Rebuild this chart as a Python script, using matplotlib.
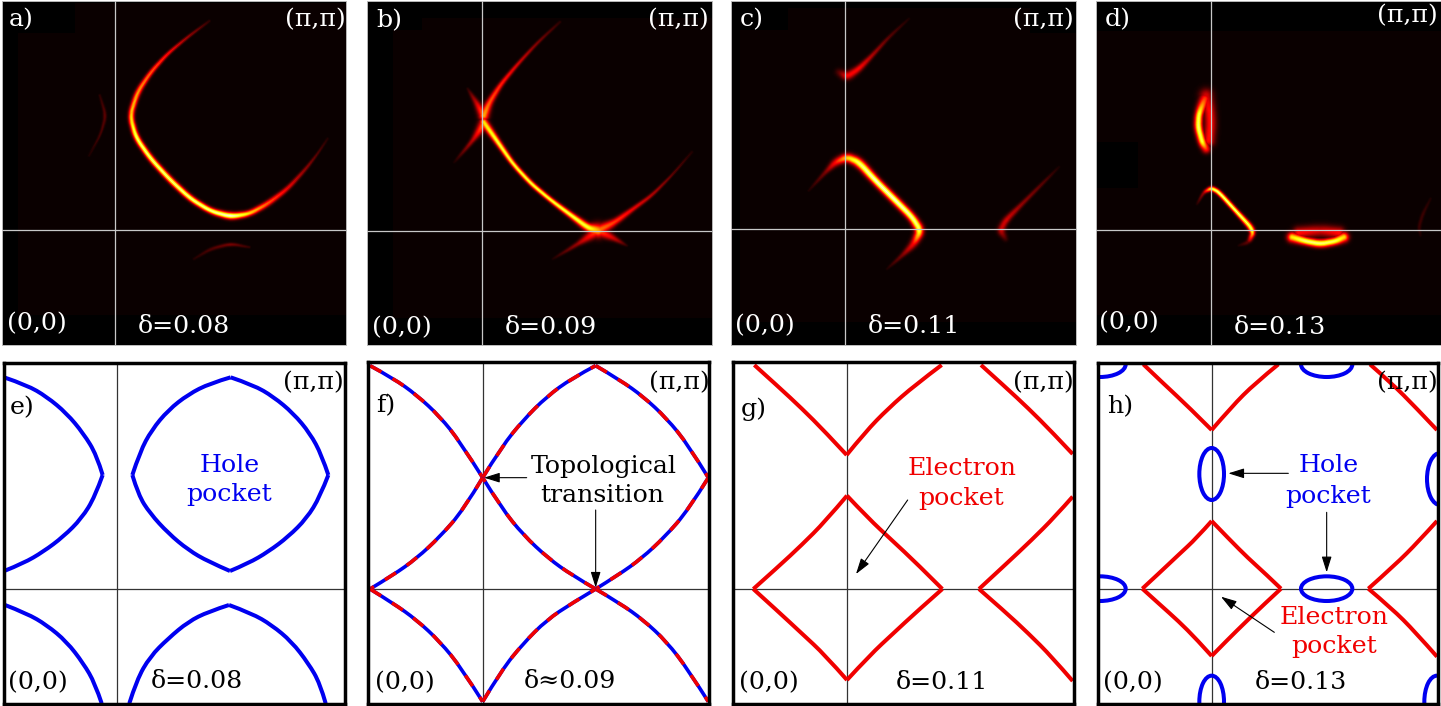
import numpy as np
from matplotlib import pyplot as plt
from matplotlib.patches import Ellipse, PathPatch, Rectangle
from matplotlib.path import Path

W, H = 1441, 706
FONT = 'DejaVu Serif'
FS = 18.2
BLUE = '#0000f0'
RED = '#f00000'

# top row, spectral weight traces
a_main = [(625, 62, .06, 3), (560, 110, .22, 3.5), (500, 160, .38, 4), (450, 215, .5, 5), (410, 275, .6, 6),
          (388, 345, .68, 6), (405, 410, .85, 6), (450, 475, .88, 6), (510, 540, .88, 6), (570, 595, .88, 6),
          (630, 632, .88, 6), (690, 648, .95, 7), (745, 640, .7, 6), (800, 610, .5, 6), (860, 565, .34, 5),
          (915, 505, .2, 4), (950, 460, .11, 3), (980, 415, .04, 3)]
a_left = [(297, 285, .05, 3), (315, 345, .12, 4), (300, 400, .09, 3), (265, 465, .03, 3)]
a_low = [(580, 775, .04, 3), (630, 745, .1, 4), (690, 730, .16, 4), (745, 740, .06, 3)]

b_up = [(595, 65, .06, 3), (530, 125, .18, 3.5), (470, 190, .32, 4), (420, 250, .42, 5), (385, 305, .5, 7),
        (368, 345, .62, 10)]
b_low = [(368, 365, .72, 8), (410, 425, .82, 6), (455, 490, .82, 5), (510, 550, .82, 5), (570, 600, .82, 5),
         (630, 645, .82, 6), (680, 682, .8, 8), (710, 690, .62, 14)]
b_right = [(710, 690, .55, 12), (760, 665, .45, 7), (815, 625, .34, 5), (870, 585, .26, 4), (930, 525, .14, 3),
           (990, 455, .04, 3)]
b_arm1 = [(320, 265, .05, 3), (345, 305, .28, 6), (368, 345, .55, 10)]
b_arm2 = [(368, 370, .55, 10), (335, 420, .26, 5), (280, 485, .03, 3)]
b_arm3 = [(710, 690, .5, 12), (650, 730, .22, 5), (575, 775, .03, 3)]
b_arm4 = [(710, 690, .5, 12), (760, 715, .28, 6), (795, 735, .05, 3)]

c_up = [(340, 215, .1, 8), (365, 228, .36, 9), (400, 205, .36, 7), (440, 165, .24, 5), (490, 110, .12, 4),
        (550, 55, .03, 3)]
c_main = [(250, 570, .03, 3), (300, 515, .16, 5), (330, 485, .38, 8), (365, 470, .68, 9), (400, 485, .85, 9),
          (450, 540, .95, 8), (510, 600, .95, 8), (560, 650, .9, 8), (585, 690, .82, 9), (565, 730, .36, 8),
          (530, 765, .16, 5), (485, 805, .03, 3)]
c_right = [(1000, 500, .03, 3), (950, 550, .12, 4), (890, 610, .2, 5), (840, 660, .3, 7), (825, 690, .28, 8),
           (840, 715, .08, 6)]

d_hole_l = [(358, 295, .45, 11), (340, 340, .8, 8), (338, 380, .85, 8), (350, 425, .8, 8), (362, 445, .42, 9)]
d_hole_r = [(362, 285, .3, 14), (372, 330, .38, 12), (375, 370, .38, 12), (370, 420, .38, 12)]
d_diag = [(335, 610, .04, 3), (355, 575, .22, 4), (378, 563, .8, 5), (400, 575, .88, 5), (450, 630, .88, 5),
          (505, 690, .82, 6), (490, 725, .14, 5), (460, 735, .03, 3)]
d_ell_low = [(620, 710, .72, 10), (660, 722, .86, 8), (705, 730, .86, 8), (750, 722, .82, 8), (775, 710, .7, 10)]
d_ell_up = [(640, 697, .38, 12), (705, 690, .3, 12), (760, 697, .38, 12)]
d_tail = [(1035, 595, .03, 3), (1012, 640, .07, 4), (1000, 680, .07, 4), (1005, 705, .03, 3)]

# bottom row, Fermi surface
e_pocket = [(397, 360), (420, 290), (455, 225), (505, 165), (565, 118), (630, 85), (692, 67), (760, 90), (820, 125),
            (880, 175), (930, 235), (965, 300), (985, 360), (960, 425), (920, 490), (865, 545), (805, 590),
            (745, 625), (690, 648), (625, 620), (565, 585), (505, 535), (450, 475), (415, 420), (397, 360)]
e_left = [(15, 68), (80, 90), (140, 125), (200, 175), (250, 235), (290, 300), (308, 360), (285, 425), (245, 490),
          (190, 545), (130, 590), (70, 625), (15, 647)]
e_low_l = [(15, 750), (80, 775), (140, 810), (200, 860), (250, 925), (285, 985), (305, 1045)]
e_low_r = [(388, 1045), (410, 975), (450, 905), (505, 850), (565, 800), (625, 770), (687, 750), (755, 775),
           (815, 810), (875, 860), (925, 925), (960, 985), (977, 1045)]

f_curves = [
    [(30, 32), (100, 70), (170, 120), (240, 185), (300, 260), (368, 368)],
    [(368, 368), (425, 275), (490, 195), (560, 125), (635, 70), (707, 32)],
    [(707, 32), (780, 75), (850, 125), (920, 190), (985, 270), (1045, 368)],
    [(1045, 368), (985, 465), (915, 545), (845, 610), (775, 660), (707, 702)],
    [(707, 702), (635, 660), (565, 610), (490, 540), (425, 460), (368, 368)],
    [(368, 368), (310, 465), (240, 545), (170, 610), (100, 660), (30, 702)],
    [(30, 702), (100, 745), (170, 795), (240, 860), (305, 940), (368, 1040)],
    [(368, 1040), (425, 945), (490, 865), (560, 795), (635, 745), (707, 702)],
    [(707, 702), (780, 745), (850, 795), (920, 860), (985, 945), (1045, 1040)],
]

g_curves = [
    [(88, 30), (160, 95), (230, 160), (300, 230), (365, 300), (420, 232), (490, 160), (570, 90), (650, 30)],
    [(768, 30), (840, 95), (910, 160), (980, 230), (1043, 297)],
    [(366, 422), (430, 490), (500, 555), (575, 625), (652, 702), (575, 770), (505, 835), (435, 900), (366, 975),
     (300, 900), (230, 835), (160, 770), (85, 702), (160, 635), (230, 570), (300, 500), (366, 422)],
    [(1043, 425), (990, 485), (920, 555), (840, 630), (762, 702), (840, 770), (910, 835), (980, 905), (1043, 978)],
]

h_curves = [
    [(175, 28), (240, 90), (310, 155), (380, 225), (440, 155), (510, 85), (580, 28)],
    [(855, 28), (920, 85), (990, 155), (1056, 225)],
    [(380, 498), (435, 555), (490, 610), (540, 655), (588, 701), (535, 750), (480, 803), (430, 852), (380, 903),
     (335, 853), (280, 798), (225, 749), (172, 701), (225, 652), (280, 600), (335, 549), (380, 498)],
    [(1056, 498), (1000, 560), (930, 630), (850, 701), (920, 760), (990, 830), (1056, 905)],
]
# center x, center y, full width, full height
h_ellipses = [(380, 357, 74, 156), (725, 701, 154, 74), (725, 28, 154, 76), (45, 28, 154, 76), (45, 701, 154, 74),
              (1065, 372, 78, 156), (380, 1040, 74, 156), (1056, 1040, 76, 156)]

top_panels = [
    dict(origin=(0, 0), xlim=(5, 1038), ylim=(1035, 3), cross=(346, 689),
         curves=[a_main, a_left, a_low],
         black=[(5, 3, 50, 1032), (5, 945, 1033, 90), (5, 3, 220, 97), (5, 3, 1033, 7)],
         texts=[(25, 58, 'a)'), (855, 58, '(π,π)'), (22, 972, '(0,0)'), (413, 980, 'δ=0.08')]),
    dict(origin=(360, 0), xlim=(20, 1055), ylim=(1035, 3), cross=(367, 693),
         curves=[b_up, b_low, b_right, b_arm1, b_arm2, b_arm3, b_arm4],
         black=[(20, 3, 80, 1032), (20, 955, 1035, 80), (20, 3, 1035, 52), (20, 3, 165, 87)],
         texts=[(48, 63, 'b)'), (864, 58, '(π,π)'), (35, 982, '(0,0)'), (433, 983, 'δ=0.09')]),
    dict(origin=(725, 0), xlim=(18, 1052), ylim=(1035, 3), cross=(361, 688),
         curves=[c_up, c_main, c_right],
         black=[(18, 3, 27, 1032), (18, 965, 1034, 70), (18, 3, 1034, 22), (18, 3, 172, 87), (915, 3, 137, 97)],
         texts=[(43, 58, 'c)'), (864, 58, '(π,π)'), (30, 978, '(0,0)'), (428, 980, 'δ=0.11')]),
    dict(origin=(1085, 0), xlim=(33, 1068), ylim=(1035, 3), cross=(378, 690),
         curves=[d_hole_l, d_hole_r, d_diag, d_ell_low, d_ell_up, d_tail],
         black=[(33, 3, 1035, 90), (33, 945, 1035, 90), (33, 425, 127, 140)],
         texts=[(60, 58, 'd)'), (877, 48, '(π,π)'), (42, 968, '(0,0)'), (445, 983, 'δ=0.13')]),
]

e_texts = [(28, 158, 'e)', 'k'), (848, 83, '(π,π)', 'k'), (25, 983, '(0,0)', 'k'), (452, 980, 'δ=0.08', 'k'),
           (598, 331, 'Hole', BLUE), (558, 418, 'pocket', BLUE)]
f_texts = [(48, 153, 'f)', 'k'), (867, 83, '(π,π)', 'k'), (45, 983, '(0,0)', 'k'), (492, 980, 'δ≈0.09', 'k'),
           (513, 333, 'Topological', 'k'), (542, 423, 'transition', 'k')]
g_texts = [(48, 163, 'g)', 'k'), (864, 83, '(π,π)', 'k'), (42, 983, '(0,0)', 'k'), (512, 983, 'δ=0.11', 'k'),
           (548, 340, 'Electron', RED), (580, 430, 'pocket', RED)]
h_texts = [(65, 156, 'h)', 'k'), (877, 83, '(π,π)', 'k'), (55, 983, '(0,0)', 'k'), (510, 983, 'δ=0.13', 'k'),
           (640, 333, 'Hole', BLUE), (600, 423, 'pocket', BLUE),
           (585, 786, 'Electron', RED), (618, 873, 'pocket', RED)]

f_arrows = [((500, 368), (372, 368)), ((707, 465), (707, 698))]
g_arrows = [((548, 435), (393, 657))]
h_arrows = [((610, 355), (430, 355)), ((725, 472), (725, 652)), ((568, 832), (408, 725))]


def panel_axes(fig, origin, xlim, ylim):
    x0 = origin[0] + xlim[0] / 3
    x1 = origin[0] + xlim[1] / 3
    y0 = origin[1] + ylim[1] / 3
    y1 = origin[1] + ylim[0] / 3
    ax = fig.add_axes([x0 / W, 1 - y1 / H, (x1 - x0) / W, (y1 - y0) / H])
    ax.set_xlim(*xlim)
    ax.set_ylim(*ylim)
    ax.set_xticks([])
    ax.set_yticks([])
    return ax


def spectral_image(curves, xlim, ylim):
    xs = np.arange(xlim[0], xlim[1], 3.0)
    ys = np.arange(ylim[1], ylim[0], 3.0)
    gx, gy = np.meshgrid(xs, ys)
    out = np.zeros(gx.shape)
    for curve in curves:
        c = np.array(curve, dtype=float)
        t = np.arange(len(c))
        tt = np.linspace(0, len(c) - 1, (len(c) - 1) * 20 + 1)
        path = np.column_stack([np.interp(tt, t, c[:, i]) for i in range(4)])
        # round off the polyline corners
        kernel = np.ones(15) / 15
        for i in range(2):
            smooth = np.convolve(path[:, i], kernel, mode='same')
            smooth[:7] = path[:7, i]
            smooth[-7:] = path[-7:, i]
            path[:, i] = smooth
        for px, py, amp, sig in path:
            d2 = (gx - px) ** 2 + (gy - py) ** 2
            out = np.maximum(out, amp * np.exp(-d2 / (2 * sig ** 2)))
    return out


def put_text(ax, x, y, s, color):
    ax.text(x, y, s, color=color, family=FONT, fontsize=FS, ha='left', va='center', zorder=6, clip_on=False)


def draw_top(fig, panel):
    ax = panel_axes(fig, panel['origin'], panel['xlim'], panel['ylim'])
    xlim, ylim = panel['xlim'], panel['ylim']
    img = spectral_image(panel['curves'], xlim, ylim)
    ax.imshow(img, cmap='hot', vmin=0, vmax=1, extent=[xlim[0], xlim[1], ylim[0], ylim[1]],
              aspect='auto', interpolation='bilinear', zorder=1)
    for x, y, w, h in panel['black']:
        ax.add_patch(Rectangle((x, y), w, h, color='black', lw=0, zorder=2))
    ax.axvline(panel['cross'][0], color='#c8c8c8', lw=0.9, zorder=4)
    ax.axhline(panel['cross'][1], color='#c8c8c8', lw=0.9, zorder=4)
    for s in ax.spines.values():
        s.set_color('#bbbbbb')
        s.set_linewidth(0.7)
    for x, y, s in panel['texts']:
        put_text(ax, x, y, s, 'white')


def draw_bottom(fig, origin, xlim, ylim, cross, texts, arrows=()):
    ax = panel_axes(fig, origin, xlim, ylim)
    ax.axvline(cross[0], color='#333333', lw=0.9, zorder=1)
    ax.axhline(cross[1], color='#333333', lw=0.9, zorder=1)
    for s in ax.spines.values():
        s.set_color('black')
        s.set_linewidth(2.5)
        s.set_zorder(5)
    for x, y, s, col in texts:
        put_text(ax, x, y, s, col)
    for start, end in arrows:
        ax.annotate('', xy=end, xytext=start, zorder=4,
                    arrowprops=dict(arrowstyle='-|>,head_length=0.8,head_width=0.25', color='black', lw=0.8,
                                    mutation_scale=12, shrinkA=0, shrinkB=0))
    return ax


def split_at_tips(pts, max_turn=27):
    # the curves have sharp tips, only the stretches between them get rounded
    pts = np.array(pts, dtype=float)
    d = np.diff(pts, axis=0)
    ang = np.degrees(np.arctan2(d[:, 1], d[:, 0]))
    turn = np.abs((np.diff(ang) + 180) % 360 - 180)
    cuts = [0] + [i + 1 for i in np.where(turn > max_turn)[0]] + [len(pts) - 1]
    return [pts[a:b + 1] for a, b in zip(cuts[:-1], cuts[1:])]


def plot_curve(ax, pts, color, lw=2.9, **kw):
    for arc in split_at_tips(pts):
        verts = [arc[0]]
        codes = [Path.MOVETO]
        for i in range(1, len(arc) - 1):
            end = arc[i + 1] if i == len(arc) - 2 else (arc[i] + arc[i + 1]) / 2
            verts += [arc[i], end]
            codes += [Path.CURVE3, Path.CURVE3]
        if len(arc) == 2:
            verts.append(arc[1])
            codes.append(Path.LINETO)
        ax.add_patch(PathPatch(Path(verts, codes), fill=False, edgecolor=color, lw=lw, zorder=3,
                               capstyle='butt', **kw))


fig = plt.figure(figsize=(W / 100, H / 100), dpi=100)

for panel in top_panels:
    draw_top(fig, panel)

ax_e = draw_bottom(fig, (0, 355), (12, 1034), (1046, 24), (352, 701), e_texts)
for curve in [e_pocket, e_left, e_low_l, e_low_r]:
    plot_curve(ax_e, curve, BLUE)

ax_f = draw_bottom(fig, (360, 355), (25, 1048), (1046, 22), (368, 702), f_texts, f_arrows)
for curve in f_curves:
    plot_curve(ax_f, curve, BLUE, lw=2.6)
    plot_curve(ax_f, curve, RED, lw=2.6, linestyle=(0, (3.6, 3.6)))

ax_g = draw_bottom(fig, (725, 355), (25, 1048), (1046, 22), (366, 702), g_texts, g_arrows)
for curve in g_curves:
    plot_curve(ax_g, curve, RED)

ax_h = draw_bottom(fig, (1085, 355), (38, 1060), (1046, 24), (380, 701), h_texts, h_arrows)
for curve in h_curves:
    plot_curve(ax_h, curve, RED)
for x, y, w, h in h_ellipses:
    ax_h.add_patch(Ellipse((x, y), w, h, fill=False, edgecolor=BLUE, lw=2.9, zorder=3))

fig.savefig('out.png', dpi=100)
